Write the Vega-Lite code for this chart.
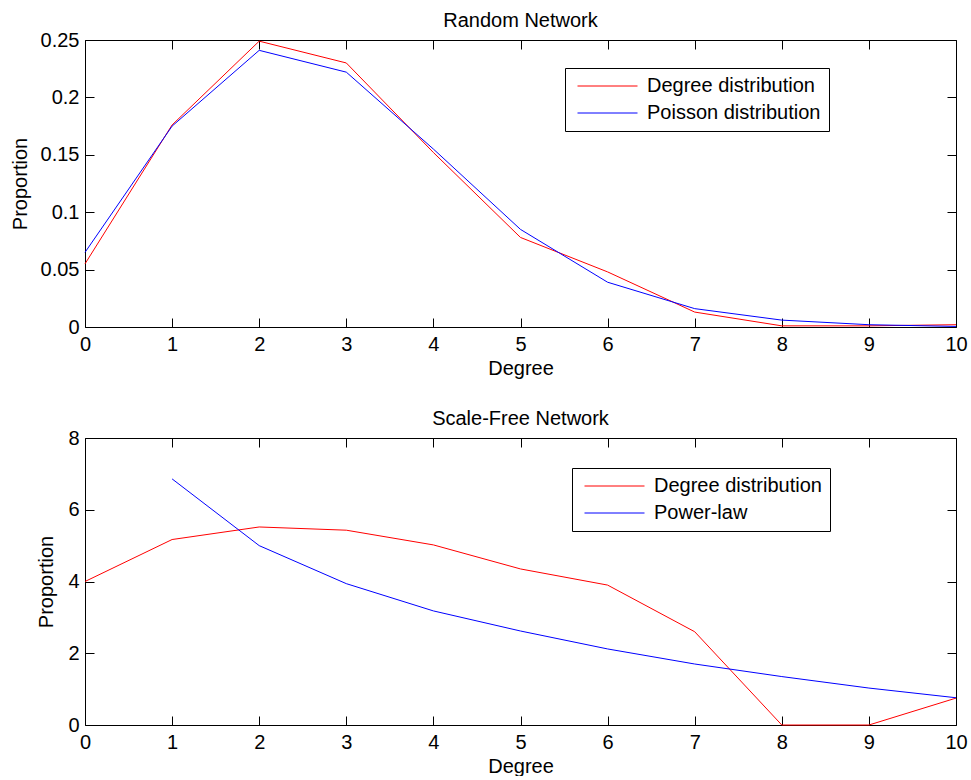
{
  "$schema": "https://vega.github.io/schema/vega-lite/v6.json",
  "background": "white",
  "padding": {"left": 10, "top": 11, "right": 0, "bottom": 0},
  "datasets": {
    "random": [
      {"degree": 0, "proportion": 0.055, "series": "Degree distribution"},
      {"degree": 1, "proportion": 0.176, "series": "Degree distribution"},
      {"degree": 2, "proportion": 0.249, "series": "Degree distribution"},
      {"degree": 3, "proportion": 0.230, "series": "Degree distribution"},
      {"degree": 4, "proportion": 0.152, "series": "Degree distribution"},
      {"degree": 5, "proportion": 0.078, "series": "Degree distribution"},
      {"degree": 6, "proportion": 0.048, "series": "Degree distribution"},
      {"degree": 7, "proportion": 0.013, "series": "Degree distribution"},
      {"degree": 8, "proportion": 0.001, "series": "Degree distribution"},
      {"degree": 9, "proportion": 0.001, "series": "Degree distribution"},
      {"degree": 10, "proportion": 0.002, "series": "Degree distribution"},
      {"degree": 0, "proportion": 0.065, "series": "Poisson distribution"},
      {"degree": 1, "proportion": 0.175, "series": "Poisson distribution"},
      {"degree": 2, "proportion": 0.241, "series": "Poisson distribution"},
      {"degree": 3, "proportion": 0.222, "series": "Poisson distribution"},
      {"degree": 4, "proportion": 0.155, "series": "Poisson distribution"},
      {"degree": 5, "proportion": 0.085, "series": "Poisson distribution"},
      {"degree": 6, "proportion": 0.039, "series": "Poisson distribution"},
      {"degree": 7, "proportion": 0.016, "series": "Poisson distribution"},
      {"degree": 8, "proportion": 0.006, "series": "Poisson distribution"},
      {"degree": 9, "proportion": 0.002, "series": "Poisson distribution"},
      {"degree": 10, "proportion": 0.0005, "series": "Poisson distribution"}
    ],
    "scalefree": [
      {"degree": 0, "proportion": 4.0, "series": "Degree distribution"},
      {"degree": 1, "proportion": 5.17, "series": "Degree distribution"},
      {"degree": 2, "proportion": 5.52, "series": "Degree distribution"},
      {"degree": 3, "proportion": 5.43, "series": "Degree distribution"},
      {"degree": 4, "proportion": 5.02, "series": "Degree distribution"},
      {"degree": 5, "proportion": 4.35, "series": "Degree distribution"},
      {"degree": 6, "proportion": 3.9, "series": "Degree distribution"},
      {"degree": 7, "proportion": 2.6, "series": "Degree distribution"},
      {"degree": 8, "proportion": 0, "series": "Degree distribution"},
      {"degree": 9, "proportion": 0, "series": "Degree distribution"},
      {"degree": 10, "proportion": 0.75, "series": "Degree distribution"},
      {"degree": 1, "proportion": 6.86, "series": "Power-law"},
      {"degree": 2, "proportion": 5.0, "series": "Power-law"},
      {"degree": 3, "proportion": 3.94, "series": "Power-law"},
      {"degree": 4, "proportion": 3.18, "series": "Power-law"},
      {"degree": 5, "proportion": 2.62, "series": "Power-law"},
      {"degree": 6, "proportion": 2.12, "series": "Power-law"},
      {"degree": 7, "proportion": 1.7, "series": "Power-law"},
      {"degree": 8, "proportion": 1.35, "series": "Power-law"},
      {"degree": 9, "proportion": 1.03, "series": "Power-law"},
      {"degree": 10, "proportion": 0.76, "series": "Power-law"}
    ]
  },
  "spacing": 31,
  "resolve": {"scale": {"color": "independent"}, "legend": {"color": "independent"}},
  "vconcat": [
    {
      "title": "Random Network",
      "width": 871,
      "height": 287,
      "data": {"name": "random"},
      "layer": [
        {
          "mark": {"type": "line", "strokeWidth": 1},
          "encoding": {
            "x": {"field": "degree", "type": "quantitative", "scale": {"domain": [0, 10], "nice": false},
                  "axis": {"title": "Degree", "values": [0,1,2,3,4,5,6,7,8,9,10], "format": "d", "labelPadding": 16, "titlePadding": 4}},
            "y": {"field": "proportion", "type": "quantitative", "scale": {"domain": [0, 0.25], "nice": false},
                  "axis": {"title": "Proportion", "values": [0, 0.05, 0.1, 0.15, 0.2, 0.25], "format": "~g", "labelPadding": 15, "titlePadding": 10}},
            "color": {"field": "series", "type": "nominal",
                      "scale": {"domain": ["Degree distribution", "Poisson distribution"], "range": ["#ff0000", "#0000ff"]},
                      "legend": {"title": null, "orient": "none", "legendX": 480, "legendY": 28}}
          }
        },
        {
          "mark": {"type": "point", "opacity": 0},
          "encoding": {
            "x": {"field": "degree", "type": "quantitative", "scale": {"domain": [0, 10], "nice": false},
                  "axis": {"orient": "top", "title": null, "labels": false, "values": [0,1,2,3,4,5,6,7,8,9,10]}},
            "y": {"field": "proportion", "type": "quantitative", "scale": {"domain": [0, 0.25], "nice": false},
                  "axis": {"orient": "right", "title": null, "labels": false, "values": [0, 0.05, 0.1, 0.15, 0.2, 0.25]}}
          }
        }
      ],
      "resolve": {"axis": {"x": "independent", "y": "independent"}}
    },
    {
      "title": "Scale-Free Network",
      "width": 871,
      "height": 287,
      "data": {"name": "scalefree"},
      "layer": [
        {
          "mark": {"type": "line", "strokeWidth": 1},
          "encoding": {
            "x": {"field": "degree", "type": "quantitative", "scale": {"domain": [0, 10], "nice": false},
                  "axis": {"title": "Degree", "values": [0,1,2,3,4,5,6,7,8,9,10], "format": "d", "labelPadding": 16, "titlePadding": 4}},
            "y": {"field": "proportion", "type": "quantitative", "scale": {"domain": [0, 8], "nice": false},
                  "axis": {"title": "Proportion", "values": [0, 2, 4, 6, 8], "format": "d", "labelPadding": 15, "titlePadding": 11}},
            "color": {"field": "series", "type": "nominal",
                      "scale": {"domain": ["Degree distribution", "Power-law"], "range": ["#ff0000", "#0000ff"]},
                      "legend": {"title": null, "orient": "none", "legendX": 487, "legendY": 30}}
          }
        },
        {
          "mark": {"type": "point", "opacity": 0},
          "encoding": {
            "x": {"field": "degree", "type": "quantitative", "scale": {"domain": [0, 10], "nice": false},
                  "axis": {"orient": "top", "title": null, "labels": false, "values": [0,1,2,3,4,5,6,7,8,9,10]}},
            "y": {"field": "proportion", "type": "quantitative", "scale": {"domain": [0, 8], "nice": false},
                  "axis": {"orient": "right", "title": null, "labels": false, "values": [0, 2, 4, 6, 8]}}
          }
        }
      ],
      "resolve": {"axis": {"x": "independent", "y": "independent"}}
    }
  ],
  "config": {
    "font": "Liberation Sans",
    "view": {"stroke": null},
    "axis": {
      "labelFont": "Liberation Sans", "labelFontSize": 20, "labelColor": "black",
      "titleFont": "Liberation Sans", "titleFontSize": 20, "titleFontWeight": "normal", "titleColor": "black",
      "domainColor": "black", "domainWidth": 1, "tickColor": "black", "tickWidth": 1, "tickSize": -9,
      "grid": false, "labelFlush": false, "labelOverlap": false
    },
    "title": {"font": "Liberation Sans", "fontSize": 20, "fontWeight": "normal", "color": "black", "offset": -1, "anchor": "middle"},
    "legend": {
      "symbolType": "stroke", "symbolSize": 3600, "symbolStrokeWidth": 1, "clipHeight": 20,
      "rowPadding": 7, "padding": 8, "symbolOffset": 4, "labelOffset": 9,
      "labelFont": "Liberation Sans", "labelFontSize": 20, "labelColor": "black", "labelLimit": 400,
      "strokeColor": "black", "fillColor": "white", "cornerRadius": 0
    }
  }
}
